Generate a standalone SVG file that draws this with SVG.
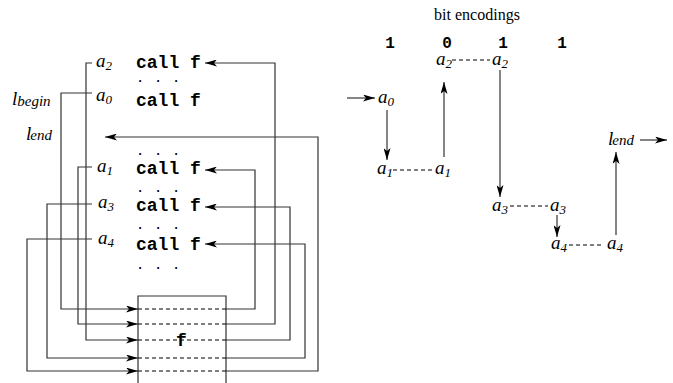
<svg xmlns="http://www.w3.org/2000/svg" width="673" height="383" viewBox="0 0 673 383">
  <defs>
    <marker id="ah" viewBox="0 0 12 7" refX="12" refY="3.5" markerWidth="12" markerHeight="7" markerUnits="userSpaceOnUse" orient="auto">
      <path d="M0,0 L12,3.5 L0,7 L3,3.5 z" fill="#000"/>
    </marker>
  </defs>
  <style>
    .ln { fill: none; stroke: #333; stroke-width: 1.2; }
    .dash { fill: none; stroke: #000; stroke-width: 1; stroke-dasharray: 4 3; }
    .arr { fill: none; stroke: #333; stroke-width: 1.2; marker-end: url(#ah); }
    .code { font-family: "Liberation Mono", monospace; font-weight: bold; font-size: 18px; fill: #000; }
    .dots { font-family: "Liberation Mono", monospace; font-weight: bold; font-size: 12px; letter-spacing: 10.8px; fill: #000; }
    .bit { font-family: "Liberation Mono", monospace; font-weight: bold; font-size: 16px; fill: #000; }
    .v { font-family: "Liberation Serif", serif; font-style: italic; font-size: 19px; fill: #000; }
    .s { font-family: "Liberation Serif", serif; font-style: italic; font-size: 13px; }
    .t { font-family: "Liberation Serif", serif; font-style: italic; font-size: 15px; }
    .title { font-family: "Liberation Serif", serif; font-size: 16px; fill: #000; }
  </style>

  <!-- program listing -->
  <g id="listing">
    <text class="v" x="96" y="67">a<tspan class="s" dy="3">2</tspan></text>
    <text class="code" x="136" y="68">call f</text>
    <text class="dots" x="136.4" y="82">...</text>
    <text class="v" x="12" y="105">l<tspan class="t" dy="1">begin</tspan></text>
    <text class="v" x="96" y="101">a<tspan class="s" dy="3">0</tspan></text>
    <text class="code" x="136" y="106">call f</text>
    <text class="v" x="26" y="140">l<tspan class="t" dx="-1">end</tspan></text>
    <text class="dots" x="136.4" y="155">...</text>
    <text class="v" x="97" y="172">a<tspan class="s" dy="3">1</tspan></text>
    <text class="code" x="136" y="174">call f</text>
    <text class="dots" x="136.4" y="192">...</text>
    <text class="v" x="98" y="208">a<tspan class="s" dy="3">3</tspan></text>
    <text class="code" x="136" y="211">call f</text>
    <text class="dots" x="136.4" y="229">...</text>
    <text class="v" x="98" y="244">a<tspan class="s" dy="3">4</tspan></text>
    <text class="code" x="136" y="250">call f</text>
    <text class="dots" x="136.4" y="269">...</text>
  </g>

  <!-- function body -->
  <g id="func">
    <path class="ln" d="M138,383 V296 H226 V383"/>
    <line class="dash" x1="138" y1="309" x2="226" y2="309"/>
    <line class="dash" x1="138" y1="324" x2="226" y2="324"/>
    <line class="dash" x1="138" y1="340" x2="226" y2="340"/>
    <line class="dash" x1="138" y1="358" x2="226" y2="358"/>
    <line class="dash" x1="138" y1="371" x2="226" y2="371"/>
    <text class="code" x="176" y="346">f</text>
  </g>

  <!-- right-hand bit encoding -->
  <g id="bits">
    <text class="title" x="477" y="20" text-anchor="middle">bit encodings</text>
    <text class="bit" x="390" y="48" text-anchor="middle">1</text>
    <text class="bit" x="447" y="48" text-anchor="middle">0</text>
    <text class="bit" x="503" y="48" text-anchor="middle">1</text>
    <text class="bit" x="562" y="48" text-anchor="middle">1</text>
    <text class="v" x="436" y="65">a<tspan class="s" dy="3">2</tspan></text>
    <text class="v" x="492" y="65">a<tspan class="s" dy="3">2</tspan></text>
    <text class="v" x="378" y="103">a<tspan class="s" dy="3">0</tspan></text>
    <text class="v" x="377" y="174">a<tspan class="s" dy="3">1</tspan></text>
    <text class="v" x="435" y="174">a<tspan class="s" dy="3">1</tspan></text>
    <text class="v" x="492" y="211">a<tspan class="s" dy="3">3</tspan></text>
    <text class="v" x="550" y="211">a<tspan class="s" dy="3">3</tspan></text>
    <text class="v" x="551" y="249">a<tspan class="s" dy="3">4</tspan></text>
    <text class="v" x="607" y="249">a<tspan class="s" dy="3">4</tspan></text>
    <text class="v" x="608" y="145">l<tspan class="t" dx="-1">end</tspan></text>
  </g>

  <!-- connectors -->
  <g id="connectors">
    <!-- entry points into f -->
    <path class="arr" d="M92,93 H61 V309 H138"/>
    <path class="arr" d="M92,167 H78 V324 H138"/>
    <path class="arr" d="M92,63 H86 V340 H138"/>
    <path class="arr" d="M92,204 H47 V358 H138"/>
    <path class="arr" d="M92,239 H27 V371 H138"/>
    <!-- returns from f -->
    <path class="arr" d="M226,309 H255 V170 H205"/>
    <path class="arr" d="M226,324 H275 V63 H205"/>
    <path class="arr" d="M226,340 H290 V207 H205"/>
    <path class="arr" d="M226,358 H305 V244 H205"/>
    <path class="arr" d="M226,371 H318 V137 H105"/>

    <!-- encoding chain -->
    <line class="arr" x1="347" y1="98" x2="375" y2="98"/>
    <line class="arr" x1="387" y1="110" x2="387" y2="160"/>
    <line class="dash" x1="393" y1="170" x2="433" y2="170" stroke-dasharray="3 3"/>
    <line class="arr" x1="444" y1="157" x2="444" y2="82"/>
    <line class="dash" x1="452" y1="60" x2="490" y2="60" stroke-dasharray="3 3"/>
    <line class="arr" x1="500" y1="70" x2="500" y2="197"/>
    <line class="dash" x1="510" y1="206" x2="548" y2="206" stroke-dasharray="3 3"/>
    <line class="arr" x1="557" y1="215" x2="557" y2="237"/>
    <line class="dash" x1="569" y1="245" x2="604" y2="245" stroke-dasharray="3 3"/>
    <line class="arr" x1="616" y1="235" x2="616" y2="152"/>
    <line class="arr" x1="640" y1="140" x2="667" y2="140"/>
  </g>
</svg>
